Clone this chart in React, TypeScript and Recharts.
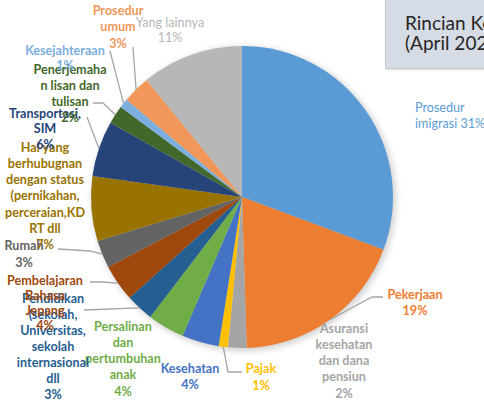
import React from 'react';
import { PieChart, Pie, Cell } from 'recharts';

// categories, clockwise from 12 o'clock
const categories = [
  'Prosedur imigrasi',
  'Pekerjaan',
  'Asuransi kesehatan dan dana pensiun',
  'Pajak',
  'Kesehatan',
  'Persalinan dan pertumbuhan anak',
  'Pendidikan (sekolah, Universitas, sekolah internasional dll',
  'Pembelajaran Bahasa Jepang',
  'Rumah',
  'Hal yang berhubugnan dengan status (pernikahan, perceraian,KDRT dll',
  'Transportasi, SIM',
  'Penerjemahan lisan dan tulisan',
  'Kesejahteraan',
  'Prosedur umum',
  'Yang lainnya',
];
const shares = [31, 19, 2, 1, 4, 4, 3, 4, 3, 7, 6, 2, 1, 3, 11];
const colors = [
  '#5B9BD5', '#ED7D31', '#A5A5A5', '#FFC000', '#4472C4', '#70AD47', '#255E91', '#9E480E',
  '#636363', '#997300', '#264478', '#43682B', '#7CAFDD', '#F1975A', '#B7B7B7',
];
// label text as wrapped in the source
const labelLines = [
  ['Prosedur', 'imigrasi 31%'],
  ['Pekerjaan', '19%'],
  ['Asuransi', 'kesehatan', 'dan dana', 'pensiun', '2%'],
  ['Pajak', '1%'],
  ['Kesehatan', '4%'],
  ['Persalinan', 'dan', 'pertumbuhan', 'anak', '4%'],
  ['Pendidikan', '(sekolah,', 'Universitas,', 'sekolah', 'internasional', 'dll', '3%'],
  ['Pembelajaran', 'Bahasa', 'Jepang', '4%'],
  ['Rumah', '3%'],
  ['Hal yang', 'berhubugnan', 'dengan status', '(pernikahan,', 'perceraian,KD', 'RT dll', '7%'],
  ['Transportasi,', 'SIM', '6%'],
  ['Penerjemaha', 'n lisan dan', 'tulisan', '2%'],
  ['Kesejahteraan', '1%'],
  ['Prosedur', 'umum', '3%'],
  ['Yang lainnya', '11%'],
];

const data = categories.map((name, i) => ({ name, value: shares[i] }));

// where each data label sits, and the bend of its leader line
type LabelPos = { x: number; y: number; lh: number; anchor?: 'start' | 'middle'; bold?: boolean; leader?: number[][] };
const labelPos: LabelPos[] = [
  { x: 415, y: 107, lh: 16, anchor: 'start', bold: false },
  { x: 415, y: 294, lh: 16, leader: [[372, 297], [383, 297]] },
  { x: 344, y: 328, lh: 16.3 },
  { x: 261, y: 368, lh: 17, leader: [[228, 372], [242, 372]] },
  { x: 190, y: 368, lh: 16 },
  { x: 123, y: 326, lh: 16.3 },
  { x: 53, y: 298, lh: 16, leader: [[84, 310]] },
  { x: 45, y: 280, lh: 15, leader: [[103, 282], [90, 282]] },
  { x: 24, y: 245, lh: 17, leader: [[90, 251], [58, 249]] },
  { x: 45, y: 147, lh: 16.3 },
  { x: 45, y: 113, lh: 15.5, leader: [[87, 117]] },
  { x: 70, y: 69, lh: 16, leader: [[103, 103], [93, 103]] },
  { x: 65, y: 50, lh: 15, leader: [[110, 51]] },
  { x: 118, y: 10, lh: 16.5, leader: [[133, 47]] },
  { x: 170, y: 22, lh: 15, bold: false },
];

const RAD = Math.PI / 180;

const renderLabel = (props: any) => {
  const { cx, cy, midAngle, outerRadius, index } = props;
  const pos = labelPos[index];
  const lines = labelLines[index];
  const ex = cx + outerRadius * Math.cos(-midAngle * RAD);
  const ey = cy + outerRadius * Math.sin(-midAngle * RAD);
  const pts = pos.leader ? [[ex, ey], ...pos.leader] : null;
  return (
    <g key={`lbl-${index}`}>
      {pts && (
        <polyline
          points={pts.map(p => p.join(',')).join(' ')}
          fill="none"
          stroke="#A6A6A6"
          strokeWidth={1.3}
        />
      )}
      {lines.map((t, j) => (
        <text
          key={j}
          x={pos.x}
          y={pos.y + j * pos.lh}
          textAnchor={pos.anchor || 'middle'}
          dominantBaseline="central"
          fill={colors[index]}
          fontSize={12.6}
          fontWeight={pos.bold === false ? 400 : 700}
          fontFamily="Lato, sans-serif"
        >
          {t}
        </text>
      ))}
    </g>
  );
};

export default function App() {
  return (
    <div style={{ position: 'absolute', left: 0, top: 0, width: 484, height: 401, overflow: 'hidden', background: '#fff' }}>
      <PieChart width={484} height={401} margin={{ top: 0, right: 0, bottom: 0, left: 0 }}>
        {/* soft drop shadow under the pie */}
        <Pie
          data={data}
          dataKey="value"
          cx={244}
          cy={199}
          outerRadius={152}
          startAngle={90}
          endAngle={-270}
          stroke="none"
          isAnimationActive={false}
          legendType="none"
        >
          {data.map((d, i) => (
            <Cell key={i} fill="#000" fillOpacity={0.18} style={{ filter: 'blur(3px)' }} />
          ))}
        </Pie>
        <Pie
          data={data}
          dataKey="value"
          cx={242}
          cy={197}
          outerRadius={151}
          startAngle={90}
          endAngle={-270}
          stroke="none"
          isAnimationActive={false}
          label={renderLabel}
          labelLine={false}
        >
          {data.map((d, i) => (
            <Cell key={i} fill={colors[i]} />
          ))}
        </Pie>
      </PieChart>
      <div
        style={{
          position: 'absolute',
          left: 385,
          top: -2,
          width: 140,
          height: 71,
          background: '#D6DCE5',
          border: '1px solid #C4CAD2',
          boxShadow: '1px 1px 2px rgba(0,0,0,0.15)',
          fontFamily: 'Lato, sans-serif',
          fontSize: 19,
          color: '#262626',
          lineHeight: '20px',
          padding: '14px 0 0 19px',
          boxSizing: 'border-box',
          whiteSpace: 'nowrap',
        }}
      >
        <div>Rincian Konsultasi</div>
        <div>(April 2022)</div>
      </div>
    </div>
  );
}
